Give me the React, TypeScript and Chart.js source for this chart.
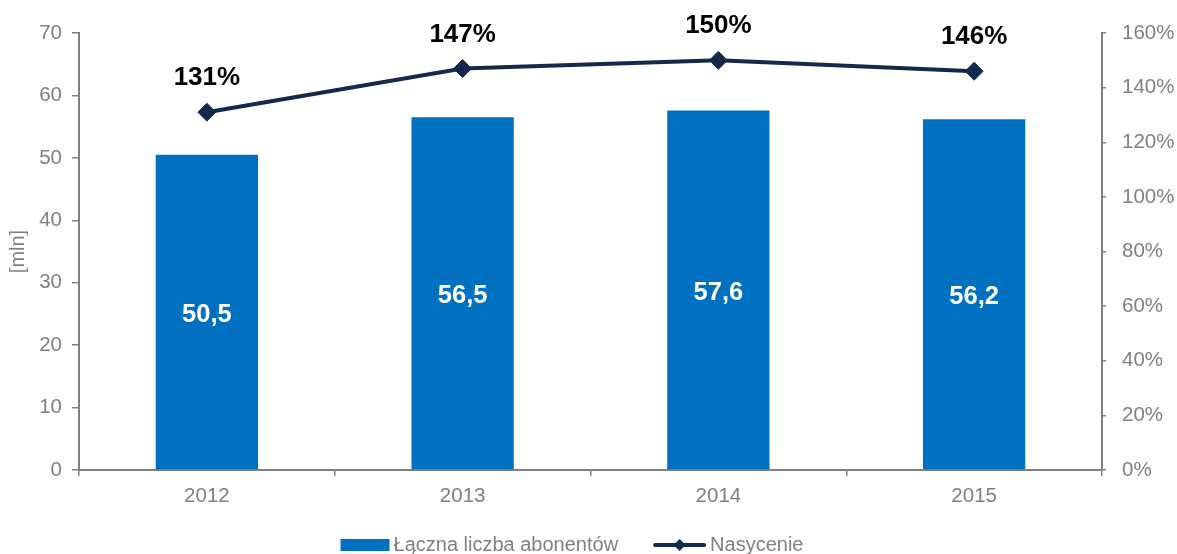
import React, { useEffect, useRef } from "react";
import { Chart, registerables } from "chart.js";

Chart.register(...registerables);

const categories: string[] = ["2012", "2013", "2014", "2015"];
const subscribers: number[] = [50.5, 56.5, 57.6, 56.2];
const saturation: number[] = [131, 147, 150, 146];
const leftTicks = { min: 0, max: 70, step: 10 };
const rightTicks = { min: 0, max: 160, step: 20 };
const seriesNames: string[] = ["Łączna liczba abonentów", "Nasycenie"];
const axisTitle = "[mln]";

const BAR_COLOR = "#0070C0";
const LINE_COLOR = "#14294B";
const GRAY = "#808080";
const FONT = "'Liberation Sans', Arial, sans-serif";
const TICK_SIZE = 20.5;

const labelPlugin = {
  id: "valueLabels",
  afterDatasetsDraw(chart: any) {
    const ctx = chart.ctx;
    ctx.save();
    ctx.textAlign = "center";
    ctx.textBaseline = "middle";
    const barMeta = chart.getDatasetMeta(0);
    ctx.fillStyle = "#FFFFFF";
    ctx.font = `bold 25.5px ${FONT}`;
    barMeta.data.forEach((el: any, i: number) => {
      const txt = subscribers[i].toFixed(1).replace(".", ",");
      ctx.fillText(txt, el.x, (el.y + el.base) / 2 + 3);
    });
    const lineMeta = chart.getDatasetMeta(1);
    ctx.fillStyle = "#000000";
    ctx.font = `bold 26px ${FONT}`;
    lineMeta.data.forEach((el: any, i: number) => {
      ctx.fillText(`${saturation[i]}%`, el.x, el.y - 34);
    });
    ctx.restore();
  },
};

const legendPlugin = {
  id: "customLegend",
  afterDraw(chart: any) {
    const ctx = chart.ctx;
    ctx.save();
    ctx.font = `20px ${FONT}`;
    ctx.textBaseline = "middle";
    ctx.textAlign = "left";
    const w1 = ctx.measureText(seriesNames[0]).width;
    const w2 = ctx.measureText(seriesNames[1]).width;
    const boxW = 49;
    const lineW = 53;
    const gap = 4;
    const spacing = 35;
    const total = boxW + gap + w1 + spacing + lineW + gap + w2;
    const cy = 545;
    let x = 572 - total / 2;
    ctx.fillStyle = BAR_COLOR;
    ctx.fillRect(x, cy - 6, boxW, 12);
    x += boxW + gap;
    ctx.fillStyle = GRAY;
    ctx.fillText(seriesNames[0], x, cy);
    x += w1 + spacing;
    ctx.strokeStyle = LINE_COLOR;
    ctx.lineWidth = 4;
    ctx.lineCap = "round";
    ctx.beginPath();
    ctx.moveTo(x + 2, cy);
    ctx.lineTo(x + lineW - 2, cy);
    ctx.stroke();
    const dx = x + lineW / 2;
    ctx.fillStyle = LINE_COLOR;
    ctx.beginPath();
    ctx.moveTo(dx - 6, cy);
    ctx.lineTo(dx, cy - 6);
    ctx.lineTo(dx + 6, cy);
    ctx.lineTo(dx, cy + 6);
    ctx.closePath();
    ctx.fill();
    x += lineW + gap;
    ctx.fillStyle = GRAY;
    ctx.fillText(seriesNames[1], x, cy);
    ctx.restore();
  },
};

export default function App() {
  const canvasRef = useRef<HTMLCanvasElement | null>(null);

  useEffect(() => {
    if (!canvasRef.current) return;
    const chart = new Chart(canvasRef.current, {
      type: "bar",
      data: {
        labels: categories,
        datasets: [
          {
            type: "bar",
            label: seriesNames[0],
            data: subscribers,
            backgroundColor: BAR_COLOR,
            borderWidth: 0,
            categoryPercentage: 1,
            barPercentage: 0.4,
            yAxisID: "y",
            order: 1,
          },
          {
            type: "line",
            label: seriesNames[1],
            data: saturation,
            borderColor: LINE_COLOR,
            backgroundColor: LINE_COLOR,
            borderWidth: 4,
            pointStyle: "rectRot",
            pointRadius: 9,
            pointBackgroundColor: LINE_COLOR,
            pointBorderColor: LINE_COLOR,
            pointBorderWidth: 1,
            tension: 0,
            yAxisID: "y1",
            order: 0,
          } as any,
        ],
      },
      options: {
        animation: false,
        responsive: false,
        maintainAspectRatio: false,
        layout: { padding: { top: 33, left: 0, right: 0, bottom: 0 } },
        plugins: {
          legend: { display: false },
          tooltip: { enabled: false },
        },
        scales: {
          x: {
            grid: {
              offset: true,
              drawOnChartArea: false,
              drawTicks: true,
              tickLength: 6,
              color: GRAY,
              lineWidth: 1.5,
            },
            border: { color: GRAY, width: 2 },
            ticks: {
              color: GRAY,
              font: { size: TICK_SIZE, family: FONT },
              padding: 8,
            },
            afterFit(scale: any) {
              scale.height = 84;
            },
          },
          y: {
            position: "left",
            min: leftTicks.min,
            max: leftTicks.max,
            grid: {
              drawOnChartArea: false,
              drawTicks: true,
              tickLength: 7,
              color: GRAY,
              lineWidth: 1.5,
            },
            border: { color: GRAY, width: 2 },
            ticks: {
              stepSize: leftTicks.step,
              color: GRAY,
              font: { size: TICK_SIZE, family: FONT },
              padding: 10,
            },
            title: {
              display: true,
              text: axisTitle,
              color: GRAY,
              font: { size: 20, family: FONT },
              padding: { top: 6, bottom: 0 },
            },
            afterFit(scale: any) {
              scale.width = 79;
            },
          },
          y1: {
            position: "right",
            min: rightTicks.min,
            max: rightTicks.max,
            grid: {
              drawOnChartArea: false,
              drawTicks: true,
              tickLength: 4,
              color: GRAY,
              lineWidth: 1.5,
            },
            border: { color: GRAY, width: 2 },
            ticks: {
              stepSize: rightTicks.step,
              color: GRAY,
              font: { size: TICK_SIZE, family: FONT },
              padding: 16,
              callback: (v: any) => `${v}%`,
            },
            afterFit(scale: any) {
              scale.width = 75;
            },
          },
        },
      },
      plugins: [labelPlugin, legendPlugin],
    } as any);
    return () => chart.destroy();
  }, []);

  return (
    <div style={{ position: "absolute", left: 0, top: 0, width: 1177, height: 554 }}>
      <canvas ref={canvasRef} width={1177} height={554} style={{ width: 1177, height: 554, display: "block" }} />
    </div>
  );
}
